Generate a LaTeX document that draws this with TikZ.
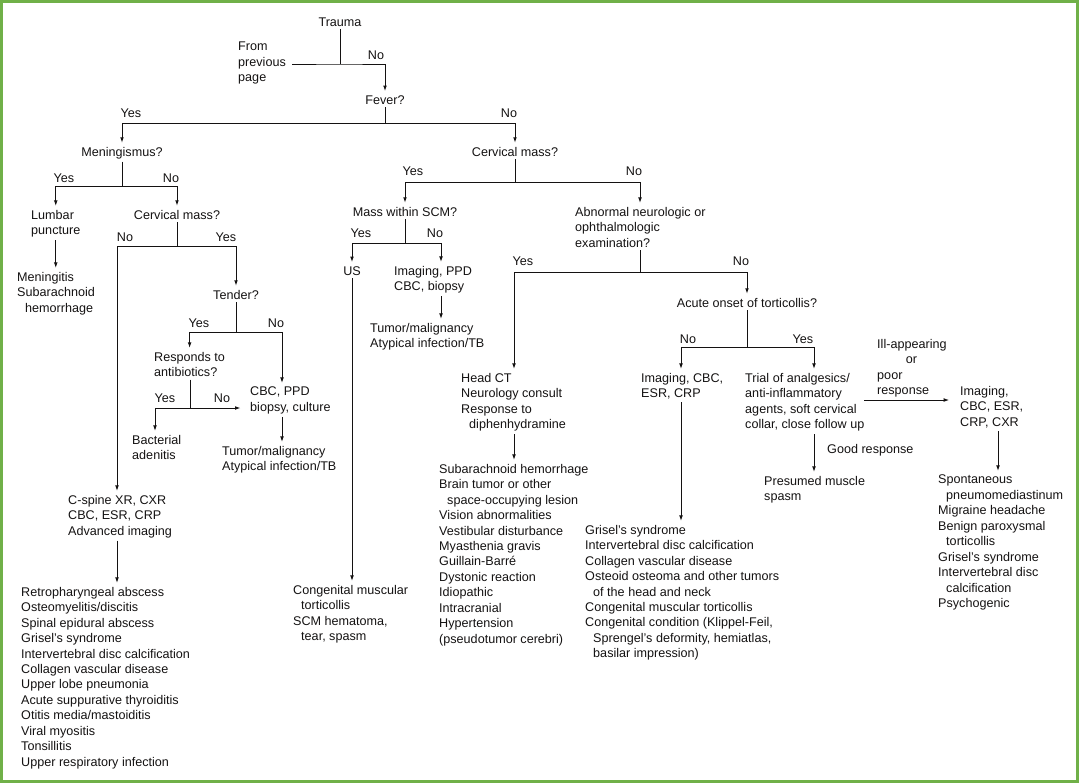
\documentclass[tikz,border=0pt]{standalone}
\usepackage{fontspec}
\setmainfont{Liberation Sans}
\usetikzlibrary{arrows.meta}
\definecolor{frameg}{RGB}{112,176,72}
\definecolor{ink}{RGB}{20,18,18}
\begin{document}
\begin{tikzpicture}[x=0.75pt,y=-0.75pt,
  txt/.style={inner sep=2pt, font=\fontsize{9.45pt}{11.6pt}\selectfont, text=ink},
  lbl/.style={txt, anchor=base},
  blk/.style={txt, align=left, anchor=north west},
  ln/.style={line width=0.75pt, draw=ink},
  arr/.style={ln, -{Latex[length=4.2pt,width=2.8pt]}, shorten >=0.8pt},
]
\useasboundingbox (0,0) rectangle (1079,783);
\draw[frameg, line width=2.25pt] (1.5,1.5) rectangle (1077.5,781.5);

% ---------- nodes ----------
\node[lbl] (trauma) at (340,26) {Trauma};
\node[blk] (from) at (235.3,39.1) {From\\previous\\page};
\node[lbl] (lNo1) at (376,59) {No};
\node[lbl] (fever) at (385,104) {Fever?};
\node[lbl] (lYes2) at (131,117) {Yes};
\node[lbl] (lNo2) at (509,117) {No};
\node[lbl] (mening) at (122,156) {Meningismus?};
\node[lbl] (cmass1) at (515,156) {Cervical mass?};
\node[lbl] (lYes3) at (64,182) {Yes};
\node[lbl] (lNo3) at (171,182) {No};
\node[blk] (lumbar) at (28.3,207.1) {Lumbar\\puncture};
\node[blk] (mout) at (14.3,269.1) {Meningitis\\Subarachnoid\\\hspace*{6pt}hemorrhage};
\node[lbl] (cmass2) at (177,219) {Cervical mass?};
\node[lbl] (lNo4) at (125,241) {No};
\node[lbl] (lYes4) at (226,241) {Yes};
\node[lbl] (tender) at (236,299) {Tender?};
\node[lbl] (lYes5) at (199,327) {Yes};
\node[lbl] (lNo5) at (276,327) {No};
\node[blk] (responds) at (151.3,349.1) {Responds to\\antibiotics?};
\node[lbl] (lYes6) at (165,402) {Yes};
\node[lbl] (lNo6) at (222,402) {No};
\node[blk] (cbc1) at (247.3,384.1) {CBC, PPD\\biopsy, culture};
\node[blk] (tumor1) at (219.3,443.1) {Tumor/malignancy\\Atypical infection/TB};
\node[blk] (bact) at (129.3,432.1) {Bacterial\\adenitis};
\node[blk] (cspine) at (65.3,492.1) {C-spine XR, CXR\\CBC, ESR, CRP\\Advanced imaging};
\node[blk] (list1) at (18.3,584.1) {Retropharyngeal abscess\\Osteomyelitis/discitis\\Spinal epidural abscess\\Grisel's syndrome\\Intervertebral disc calcification\\Collagen vascular disease\\Upper lobe pneumonia\\Acute suppurative thyroiditis\\Otitis media/mastoiditis\\Viral myositis\\Tonsillitis\\Upper respiratory infection};

\node[lbl] (lYes7) at (413,175) {Yes};
\node[lbl] (lNo7) at (634,175) {No};
\node[lbl] (scm) at (405,216) {Mass within SCM?};
\node[lbl] (lYes8) at (361,237) {Yes};
\node[lbl] (lNo8) at (435,237) {No};
\node[lbl] (us) at (352,275) {US};
\node[blk] (imag1) at (391.3,263.1) {Imaging, PPD\\CBC, biopsy};
\node[blk] (tumor2) at (367.3,320.1) {Tumor/malignancy\\Atypical infection/TB};
\node[blk] (cong) at (290.3,582.1) {Congenital muscular\\\hspace*{6pt}torticollis\\SCM hematoma,\\\hspace*{6pt}tear, spasm};
\node[blk] (abn) at (572.3,204.1) {Abnormal neurologic or\\ophthalmologic\\examination?};
\node[lbl] (lYes9) at (523,265) {Yes};
\node[lbl] (lNo9) at (741,265) {No};
\node[lbl] (acute) at (747,307) {Acute onset of torticollis?};
\node[lbl] (lNo10) at (688,343) {No};
\node[lbl] (lYes10) at (803,343) {Yes};
\node[blk] (headct) at (458.3,370.1) {Head CT\\Neurology consult\\Response to\\\hspace*{6pt}diphenhydramine};
\node[blk] (sah) at (436.3,461.1) {Subarachnoid hemorrhage\\Brain tumor or other\\\hspace*{6pt}space-occupying lesion\\Vision abnormalities\\Vestibular disturbance\\Myasthenia gravis\\Guillain-Barré\\Dystonic reaction\\Idiopathic\\Intracranial\\Hypertension\\(pseudotumor cerebri)};
\node[blk] (imag2) at (638.3,370.1) {Imaging, CBC,\\ESR, CRP};
\node[blk] (grisel) at (582.3,522.1) {Grisel's syndrome\\Intervertebral disc calcification\\Collagen vascular disease\\Osteoid osteoma and other tumors\\\hspace*{6pt}of the head and neck\\Congenital muscular torticollis\\Congenital condition (Klippel-Feil,\\\hspace*{6pt}Sprengel's deformity, hemiatlas,\\\hspace*{6pt}basilar impression)};
\node[blk] (trial) at (742.3,370.1) {Trial of analgesics/\\anti-inflammatory\\agents, soft cervical\\collar, close follow up};
\node[blk] (ill) at (874.3,336.1) {Ill-appearing\\\hspace*{21.5pt}or\\poor\\response};
\node[blk] (imag3) at (957.3,383.1) {Imaging,\\CBC, ESR,\\CRP, CXR};
\node[lbl, anchor=base west] (good) at (824.3,453) {Good response};
\node[blk] (presumed) at (761.3,473.1) {Presumed muscle\\spasm};
\node[blk] (spont) at (935.3,472.1) {Spontaneous\\\hspace*{6pt}pneumomediastinum\\Migraine headache\\Benign paroxysmal\\\hspace*{6pt}torticollis\\Grisel's syndrome\\Intervertebral disc\\\hspace*{6pt}calcification\\Psychogenic};

% ---------- junctions ----------
\coordinate (t1) at (340,64);
\coordinate (fromend) at (292,64);
\coordinate (f1) at (385,123);
\coordinate (m1) at (122,186);
\coordinate (c2) at (177,246);
\coordinate (c2l) at (117,246);
\coordinate (td) at (236,332);
\coordinate (tdr) at (282,332);
\coordinate (rs) at (190,408);
\coordinate (rsl) at (155,408);
\coordinate (cm) at (515,182);
\coordinate (cmr) at (640,182);
\coordinate (sc) at (405,243);
\coordinate (scr) at (441,243);
\coordinate (ab) at (640,272);
\coordinate (abl) at (514,272);
\coordinate (ac) at (747,347);
\coordinate (acl) at (681,347);
\coordinate (acr) at (814,347);
\coordinate (tra) at (864,400);
\coordinate (i3) at (998,431);

% ---------- connectors ----------
\draw[ln] (trauma) -- (t1);
\draw[arr] (fromend) -- (t1) -| (fever);
\draw[ln] (fever) -- (f1);
\draw[arr] (f1) -| (mening);
\draw[arr] (f1) -| (cmass1);
\draw[ln] (mening) -- (m1);
\draw[arr] (m1) -| (lumbar);
\draw[arr] (m1) -| (cmass2);
\draw[arr] (lumbar.south) -- (lumbar.south |- mout.north);
\draw[ln] (cmass2) -- (c2);
\draw[arr] (c2) -- (c2l) -- (c2l |- cspine.north);
\draw[arr] (c2) -| (tender);
\draw[ln] (tender) -- (td);
\draw[arr] (td) -| (responds);
\draw[arr] (td) -- (tdr) -- (tdr |- cbc1.north);
\draw[ln] (rs |- responds.south) -- (rs);
\draw[arr] (rs) -- (rsl) -- (rsl |- bact.north);
\draw[arr, shorten >=5pt] (rs) -- (cbc1.west |- rs);
\draw[arr] (tdr |- cbc1.south) -- (tdr |- tumor1.north);
\draw[arr] (c2l |- cspine.south) -- (c2l |- list1.north);

\draw[ln] (cmass1) -- (cm);
\draw[arr] (cm) -| (scm);
\draw[arr] (cm) -- (cmr) -- (cmr |- abn.north);
\draw[ln] (scm) -- (sc);
\draw[arr] (sc) -| (us);
\draw[arr] (sc) -- (scr) -- (scr |- imag1.north);
\draw[arr] (us) -- (us |- cong.north);
\draw[arr] (scr |- imag1.south) -- (scr |- tumor2.north);
\draw[ln] (ab |- abn.south) -- (ab);
\draw[arr] (ab) -- (abl) -- (abl |- headct.north);
\draw[arr] (ab) -| (acute);
\draw[ln] (acute) -- (ac);
\draw[arr] (ac) -- (acl) -- (acl |- imag2.north);
\draw[arr] (ac) -- (acr) -- (acr |- trial.north);
\draw[arr] (abl |- headct.south) -- (abl |- sah.north);
\draw[arr] (acl |- imag2.south) -- (acl |- grisel.north);
\draw[arr] (acr |- trial.south) -- (acr |- presumed.north);
\draw[arr, shorten >=6pt] (tra) -- (imag3.west |- tra);
\draw[arr] (i3) -- (i3 |- spont.north);
\end{tikzpicture}
\end{document}
